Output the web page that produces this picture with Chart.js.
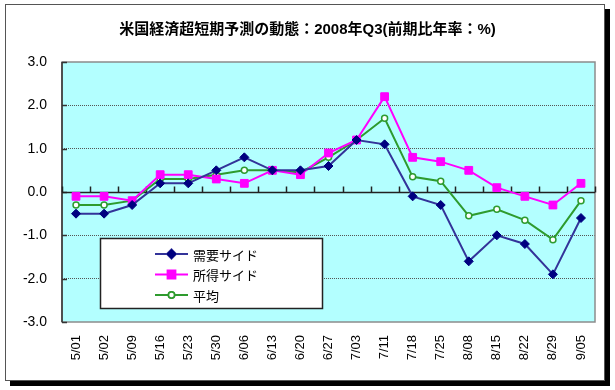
<!DOCTYPE html>
<html>
<head>
<meta charset="utf-8">
<script src="https://cdn.jsdelivr.net/npm/chart.js@4.4.0/dist/chart.umd.min.js"></script>
<style>
  body { margin: 0; background: #fff; }
  #wrap { width: 615px; height: 390px; }
</style>
</head>
<body>
<div id="wrap"><canvas id="myChart" width="615" height="390"></canvas></div>
<script>
// weekly forecast dates
const weeks = ['5/01', '5/02', '5/09', '5/16', '5/23', '5/30', '6/06', '6/13', '6/20', '6/27',
               '7/03', '7/11', '7/18', '7/25', '8/08', '8/15', '8/22', '8/29', '9/05'];

// 需要サイド
const demandSide = [-0.5, -0.5, -0.3, 0.2, 0.2, 0.5, 0.8, 0.5, 0.5, 0.6,
                    1.2, 1.1, -0.1, -0.3, -1.6, -1.0, -1.2, -1.9, -0.6];
// 所得サイド
const incomeSide = [-0.1, -0.1, -0.2, 0.4, 0.4, 0.3, 0.2, 0.5, 0.4, 0.9,
                    1.2, 2.2, 0.8, 0.7, 0.5, 0.1, -0.1, -0.3, 0.2];
// 平均
const averageSide = [-0.3, -0.3, -0.2, 0.3, 0.3, 0.4, 0.5, 0.5, 0.45, 0.8,
                     1.2, 1.7, 0.35, 0.25, -0.55, -0.4, -0.65, -1.1, -0.2];

const seriesNames = ['需要サイド', '所得サイド', '平均'];
const titleText = '米国経済超短期予測の動態：2008年Q3(前期比年率：%)';
const yMin = -3, yMax = 3;

const jpFont = "'Noto Sans CJK JP', 'Liberation Sans', sans-serif";
const numFont = "'Liberation Sans', Arial, sans-serif";
const mixFont = "'Liberation Sans', 'Noto Sans CJK JP', sans-serif";

// white sheet, outer frame with shadow, cyan plot area
const framePlugin = {
    id: 'framePlugin',
    beforeDraw(chart) {
        const ctx = chart.ctx;
        const a = chart.chartArea;
        ctx.save();
        ctx.fillStyle = '#ffffff';
        ctx.fillRect(0, 0, chart.width, chart.height);
        // shadow
        ctx.fillStyle = '#000000';
        ctx.fillRect(605, 9, 5, 377);
        ctx.fillRect(10, 381, 600, 5);
        // frame
        ctx.strokeStyle = '#555555';
        ctx.lineWidth = 1;
        ctx.strokeRect(5.5, 4.5, 599, 376);
        // plot area
        ctx.fillStyle = '#B3FFFF';
        ctx.fillRect(a.left, a.top, a.right - a.left, a.bottom - a.top);
        ctx.restore();
    },
    beforeDatasetsDraw(chart) {
        const ctx = chart.ctx;
        const a = chart.chartArea;
        const xs = chart.scales.x;
        const ys = chart.scales.y;
        ctx.save();
        // plot border
        ctx.strokeStyle = '#8C8C8C';
        ctx.lineWidth = 1.5;
        ctx.strokeRect(a.left, a.top, a.right - a.left, a.bottom - a.top);
        // value axis line
        ctx.strokeStyle = '#333333';
        ctx.beginPath();
        ctx.moveTo(a.left, a.top);
        ctx.lineTo(a.left, a.bottom);
        ctx.stroke();
        // y tick marks (inside)
        for (let v = yMin; v <= yMax; v++) {
            const py = Math.round(ys.getPixelForValue(v)) + 0.5;
            ctx.beginPath();
            ctx.moveTo(a.left, py);
            ctx.lineTo(a.left + 5, py);
            ctx.stroke();
        }
        // zero line
        const y0 = Math.round(ys.getPixelForValue(0)) + 0.5;
        ctx.strokeStyle = '#222222';
        ctx.lineWidth = 1.5;
        ctx.beginPath();
        ctx.moveTo(a.left, y0);
        ctx.lineTo(a.right, y0);
        ctx.stroke();
        // category tick marks on zero line
        const step = (a.right - a.left) / weeks.length;
        for (let i = 0; i <= weeks.length; i++) {
            const px = Math.round(xs.getPixelForValue(i) - step / 2) + 0.5;
            ctx.beginPath();
            ctx.moveTo(px, y0);
            ctx.lineTo(px, y0 - 6);
            ctx.stroke();
        }
        ctx.restore();
    }
};

// legend box drawn inside the plot area
const boxLegend = {
    id: 'boxLegend',
    afterDatasetsDraw(chart) {
        const ctx = chart.ctx;
        const bx = 100, by = 238, bw = 222, bh = 70;
        ctx.save();
        ctx.fillStyle = '#ffffff';
        ctx.fillRect(bx, by, bw, bh);
        ctx.strokeStyle = '#222222';
        ctx.lineWidth = 1.5;
        ctx.strokeRect(bx + 0.5, by + 0.5, bw, bh);
        chart.data.datasets.forEach((ds, i) => {
            const ly = by + 16 + i * 20.5;
            ctx.strokeStyle = ds.borderColor;
            ctx.lineWidth = ds.borderWidth;
            ctx.beginPath();
            ctx.moveTo(155, ly);
            ctx.lineTo(188, ly);
            ctx.stroke();
            Chart.helpers.drawPoint(ctx, {
                pointStyle: ds.pointStyle,
                radius: ds.pointRadius,
                rotation: 0,
                borderWidth: ds.pointBorderWidth
            }, 171.5, ly);
            ctx.fillStyle = ds.pointBackgroundColor;
            ctx.strokeStyle = ds.pointBorderColor;
            ctx.lineWidth = ds.pointBorderWidth;
            ctx.fill();
            ctx.stroke();
            ctx.fillStyle = '#000000';
            ctx.font = '13px ' + jpFont;
            ctx.textAlign = 'left';
            ctx.textBaseline = 'middle';
            ctx.fillText(ds.label, 193, ly + 1);
        });
        ctx.restore();
    }
};

const ctx = document.getElementById('myChart').getContext('2d');

new Chart(ctx, {
    type: 'line',
    data: {
        labels: weeks,
        datasets: [{
            label: seriesNames[0],
            data: demandSide,
            borderColor: '#333399',
            borderWidth: 2,
            pointStyle: 'rectRot',
            pointRadius: 4.5,
            pointBackgroundColor: '#000080',
            pointBorderColor: '#000080',
            pointBorderWidth: 1,
            tension: 0
        }, {
            label: seriesNames[1],
            data: incomeSide,
            borderColor: '#FF00FF',
            borderWidth: 2,
            pointStyle: 'rect',
            pointRadius: 5.5,
            pointBackgroundColor: '#FF00FF',
            pointBorderColor: '#FF00FF',
            pointBorderWidth: 1,
            tension: 0
        }, {
            label: seriesNames[2],
            data: averageSide,
            borderColor: '#2E9B2E',
            borderWidth: 2,
            pointStyle: 'circle',
            pointRadius: 3,
            pointBackgroundColor: '#FFFFFF',
            pointBorderColor: '#2E9B2E',
            pointBorderWidth: 1.5,
            tension: 0
        }]
    },
    options: {
        responsive: false,
        animation: false,
        layout: {
            padding: { left: 20, right: 20, top: 0, bottom: 0 }
        },
        plugins: {
            legend: { display: false },
            tooltip: { enabled: false },
            title: {
                display: true,
                text: titleText,
                color: '#000000',
                font: { family: mixFont, size: 15, weight: 'bold' },
                padding: { top: 21, bottom: 23 }
            }
        },
        scales: {
            x: {
                offset: true,
                grid: { display: false, drawTicks: false },
                border: { display: false },
                ticks: {
                    autoSkip: false,
                    minRotation: 90,
                    maxRotation: 90,
                    padding: 13,
                    color: '#000000',
                    font: { family: numFont, size: 13 }
                },
                afterFit(scale) { scale.height = 68; }
            },
            y: {
                min: yMin,
                max: yMax,
                grid: {
                    drawTicks: false,
                    color: (c) => {
                        const v = c.tick ? c.tick.value : 0;
                        return (v === 0 || v === yMin || v === yMax) ? 'rgba(0,0,0,0)' : '#555555';
                    },
                    lineWidth: 1
                },
                border: { display: false, dash: [1, 1] },
                ticks: {
                    stepSize: 1,
                    padding: 15,
                    color: '#000000',
                    font: { family: numFont, size: 14 },
                    callback: (v) => Number(v).toFixed(1)
                },
                afterFit(scale) { scale.width = 42; }
            }
        }
    },
    plugins: [framePlugin, boxLegend]
});
</script>
</body>
</html>
